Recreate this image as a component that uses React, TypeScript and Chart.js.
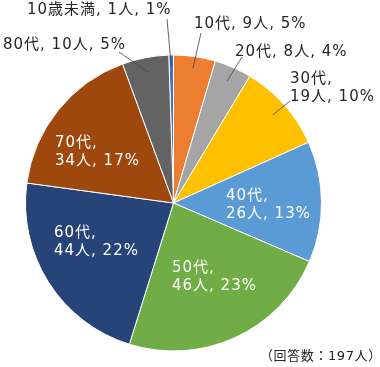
import React, { useEffect, useRef } from "react";
import { Chart, registerables } from "chart.js";

Chart.register(...registerables);

const categories = ["10歳未満", "10代", "20代", "30代", "40代", "50代", "60代", "70代", "80代"];
const counts = [1, 9, 8, 19, 26, 46, 44, 34, 10];
const percents = [1, 5, 4, 10, 13, 23, 22, 17, 5];
const colors = ["#4472C4", "#ED7D31", "#A5A5A5", "#FFC000", "#5B9BD5", "#70AD47", "#264478", "#9E480E", "#636363"];
const total = 197;
const footnote = "（回答数：197人）";

type Lay = { x: number; y: number; split: boolean; inside: boolean; lx?: number; ly?: number; rf?: number };
const layout: Lay[] = [
  { x: 27, y: 10, split: false, inside: false, lx: 167, ly: 19, rf: 0.92 },
  { x: 194, y: 24, split: false, inside: false, lx: 201, ly: 33, rf: 0.92 },
  { x: 235, y: 52, split: false, inside: false, lx: 242, ly: 57, rf: 0.9 },
  { x: 290, y: 79, split: true, inside: false, lx: 290, ly: 101, rf: 0.9 },
  { x: 226, y: 196, split: true, inside: true },
  { x: 172, y: 268, split: true, inside: true },
  { x: 54, y: 233, split: true, inside: true },
  { x: 55, y: 143, split: true, inside: true },
  { x: 3, y: 45, split: false, inside: false, lx: 119, ly: 52, rf: 0.9 },
];

const FONT = '"DejaVu Sans", "Noto Sans CJK JP", sans-serif';

const labelPlugin = {
  id: "pieLabels",
  afterDraw(chart: any) {
    const ctx = chart.ctx;
    const meta = chart.getDatasetMeta(0);
    ctx.save();
    ctx.font = `15px ${FONT}`;
    ctx.letterSpacing = "1px";
    ctx.textBaseline = "middle";
    ctx.textAlign = "left";
    meta.data.forEach((arc: any, i: number) => {
      const L = layout[i];
      const p = arc.getProps(["x", "y", "startAngle", "endAngle", "outerRadius"], true);
      if (!L.inside && L.lx !== undefined) {
        const mid = (p.startAngle + p.endAngle) / 2;
        const r = p.outerRadius * (L.rf ?? 0.9);
        const sx = p.x + Math.cos(mid) * r;
        const sy = p.y + Math.sin(mid) * r;
        ctx.strokeStyle = "#404040";
        ctx.lineWidth = 0.8;
        ctx.beginPath();
        ctx.moveTo(sx, sy);
        ctx.lineTo(L.lx, L.ly);
        ctx.stroke();
      }
      ctx.fillStyle = L.inside ? "#FFFFFF" : "#262626";
      const name = categories[i];
      const rest = `${counts[i]}人, ${percents[i]}%`;
      if (L.split) {
        ctx.fillText(`${name},`, L.x, L.y);
        ctx.fillText(rest, L.x, L.y + 18);
      } else {
        ctx.fillText(`${name}, ${rest}`, L.x, L.y);
      }
    });
    ctx.fillStyle = "#262626";
    ctx.font = `13px ${FONT}`;
    ctx.letterSpacing = "0.6px";
    ctx.fillText(footnote, 260, 357);
    ctx.restore();
  },
};

export default function App() {
  const ref = useRef<HTMLCanvasElement>(null);
  useEffect(() => {
    document.body.style.margin = "0";
    const chart = new Chart(ref.current!, {
      type: "pie",
      data: {
        labels: categories,
        datasets: [
          {
            data: counts,
            backgroundColor: colors,
            borderColor: "#FFFFFF",
            borderWidth: 1,
          },
        ],
      },
      options: {
        animation: false,
        responsive: false,
        rotation: -(counts[0] / total) * 360,
        layout: { padding: { left: 25, right: 58, top: 54.5, bottom: 15.5 } },
        plugins: { legend: { display: false }, tooltip: { enabled: false } },
      },
      plugins: [labelPlugin],
    });
    return () => chart.destroy();
  }, []);
  return (
    <div style={{ width: 380, height: 367, background: "#fff" }}>
      <canvas ref={ref} width={380} height={367} style={{ display: "block" }} />
    </div>
  );
}
